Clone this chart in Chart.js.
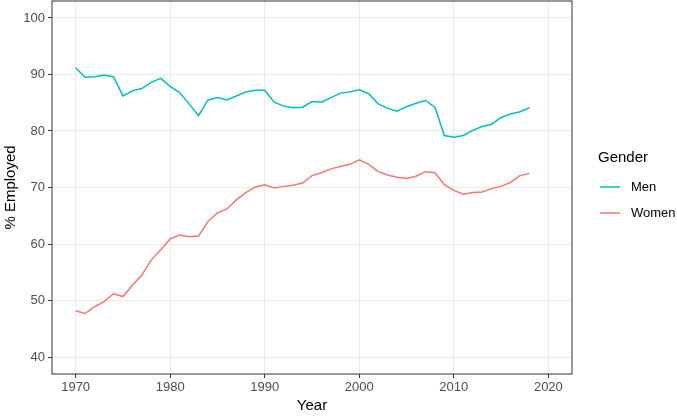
<!DOCTYPE html>
<html>
<head>
<meta charset="utf-8">
<script src="https://cdn.jsdelivr.net/npm/chart.js@4.4.1/dist/chart.umd.min.js"></script>
<style>
  html, body { margin: 0; padding: 0; background: #fff; }
  #wrap { width: 677px; height: 416px; }
</style>
</head>
<body>
<div id="wrap"><canvas id="empChart"></canvas></div>
<script>
const years = [];
for (let y = 1970; y <= 2018; y++) years.push(y);

const men = [
  91.2, 89.5, 89.6, 89.9, 89.6, 86.2, 87.1, 87.5, 88.6, 89.3,
  87.9, 86.8, 84.8, 82.7, 85.5, 85.9, 85.5, 86.2, 86.9, 87.2,
  87.2, 85.1, 84.4, 84.1, 84.2, 85.2, 85.1, 85.9, 86.7, 86.9,
  87.3, 86.6, 84.8, 84.0, 83.5, 84.3, 84.9, 85.4, 84.2, 79.2,
  78.9, 79.2, 80.1, 80.8, 81.2, 82.4, 83.0, 83.4, 84.1
];

const women = [
  48.2, 47.7, 48.9, 49.8, 51.2, 50.7, 52.7, 54.5, 57.2, 59.0,
  60.9, 61.6, 61.3, 61.4, 64.0, 65.5, 66.2, 67.8, 69.1, 70.1,
  70.5, 69.9, 70.2, 70.4, 70.8, 72.1, 72.6, 73.3, 73.7, 74.1,
  74.9, 74.1, 72.8, 72.2, 71.8, 71.6, 72.0, 72.8, 72.6, 70.5,
  69.5, 68.8, 69.1, 69.2, 69.8, 70.2, 70.9, 72.1, 72.5
];

const xTicks = [1970, 1980, 1990, 2000, 2010, 2020];
const yTicks = [40, 50, 60, 70, 80, 90, 100];

const FONT = '"Liberation Sans", Arial, Helvetica, sans-serif';

// panel border and legend, drawn the ggplot way
const framePlugin = {
  id: 'frame',
  afterDraw(chart) {
    const { ctx, chartArea: a } = chart;
    ctx.save();
    ctx.strokeStyle = '#333333';
    ctx.lineWidth = 1;
    ctx.strokeRect(a.left, a.top, a.right - a.left, a.bottom - a.top);

    ctx.fillStyle = '#000000';
    ctx.textBaseline = 'middle';
    ctx.textAlign = 'left';
    ctx.font = '15px ' + FONT;
    ctx.fillText('Gender', 598, 158);
    ctx.font = '13px ' + FONT;
    chart.data.datasets.forEach((ds, i) => {
      const y = 187 + i * 26;
      ctx.strokeStyle = ds.borderColor;
      ctx.lineWidth = 1.5;
      ctx.beginPath();
      ctx.moveTo(600, y);
      ctx.lineTo(620, y);
      ctx.stroke();
      ctx.fillStyle = '#000000';
      ctx.fillText(ds.label, 631, y);
    });
    ctx.restore();
  }
};

const ctx = document.getElementById('empChart').getContext('2d');
new Chart(ctx, {
  type: 'line',
  data: {
    datasets: [
      {
        label: 'Men',
        data: years.map((y, i) => ({ x: y, y: men[i] })),
        borderColor: '#00BFC4',
        borderWidth: 1.5,
        pointRadius: 0,
        tension: 0
      },
      {
        label: 'Women',
        data: years.map((y, i) => ({ x: y, y: women[i] })),
        borderColor: '#F8766D',
        borderWidth: 1.5,
        pointRadius: 0,
        tension: 0
      }
    ]
  },
  options: {
    responsive: true,
    maintainAspectRatio: false,
    animation: false,
    layout: { padding: { top: 1, right: 105, left: 0, bottom: 0 } },
    plugins: {
      legend: { display: false },
      tooltip: { enabled: false }
    },
    scales: {
      x: {
        type: 'linear',
        min: 1967.5,
        max: 2022.5,
        afterBuildTicks: s => { s.ticks = xTicks.map(v => ({ value: v })); },
        afterFit: s => { s.height = 42; s.paddingLeft = 0; s.paddingRight = 0; },
        grid: { color: '#EBEBEB', lineWidth: 1, tickColor: '#333333', tickLength: 4 },
        border: { display: false },
        ticks: {
          color: '#4D4D4D', font: { family: FONT, size: 13 }, padding: 2, maxRotation: 0,
          callback: v => String(v)
        },
        title: { display: true, text: 'Year', color: '#000', font: { family: FONT, size: 15 }, padding: { top: 0, bottom: 1 } }
      },
      y: {
        min: 37,
        max: 103,
        afterBuildTicks: s => { s.ticks = yTicks.map(v => ({ value: v })); },
        afterFit: s => { s.width = 52; s.paddingTop = 0; s.paddingBottom = 0; },
        grid: { color: '#EBEBEB', lineWidth: 1, tickColor: '#333333', tickLength: 4 },
        border: { display: false },
        ticks: { color: '#4D4D4D', font: { family: FONT, size: 13 }, padding: 3, callback: v => String(v) },
        title: { display: true, text: '% Employed', color: '#000', font: { family: FONT, size: 15 }, padding: { top: 2, bottom: 0 } }
      }
    }
  },
  plugins: [framePlugin]
});
</script>
</body>
</html>
